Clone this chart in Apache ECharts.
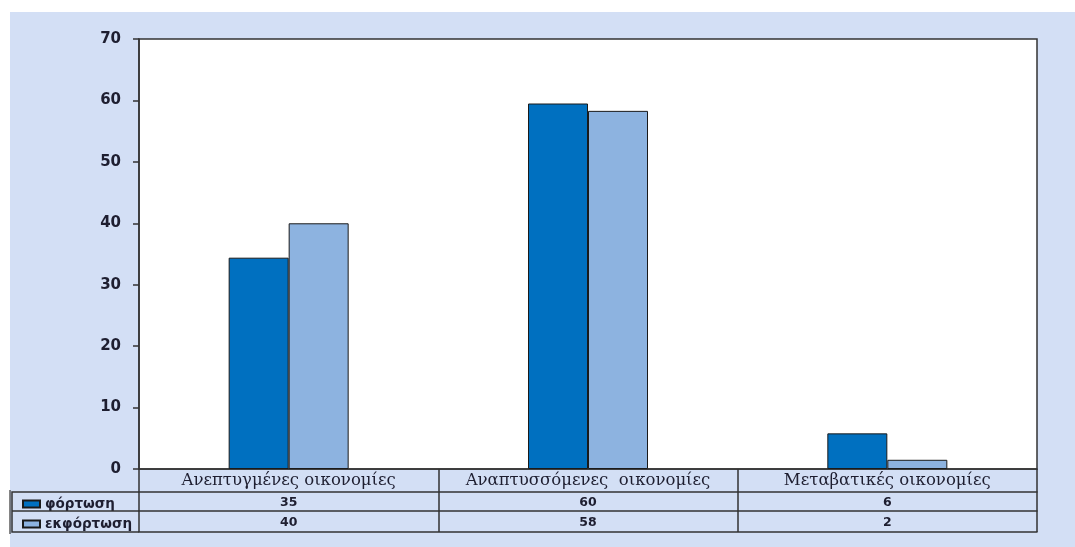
<!DOCTYPE html>
<html>
<head>
<meta charset="utf-8">
<script src="https://cdn.jsdelivr.net/npm/echarts@6/dist/echarts.min.js"></script>
<style>
html,body{margin:0;padding:0;background:#ffffff;}
#chart{width:1075px;height:547px;}
</style>
</head>
<body>
<div id="chart"></div>
<script>
// ---- data ----
const categories = ['Ανεπτυγμένες οικονομίες', 'Αναπτυσσόμενες  οικονομίες', 'Μεταβατικές οικονομίες'];
const seriesNames = ['φόρτωση', 'εκφόρτωση'];
const loading = [34.4, 59.5, 5.8];      // bar heights
const unloading = [40.0, 58.3, 1.5];
const loadingTable = ['35', '60', '6']; // values printed in the table
const unloadingTable = ['40', '58', '2'];
const yMin = 0, yMax = 70, yStep = 10;

// ---- styling ----
const dark = '#0070c0', light = '#8db3e0';
const lineCol = '#333333';
const textCol = '#1e1e30';

const chart = echarts.init(document.getElementById('chart'));

function tableAxis(offset, labels, tickLen, margin, font) {
  return {
    type: 'category',
    data: labels,
    position: 'bottom',
    offset: offset,
    gridIndex: 0,
    axisLine: { show: true, lineStyle: { color: lineCol, width: 1.5 } },
    axisTick: { show: true, length: tickLen, interval: 0, lineStyle: { color: lineCol, width: 1.5 } },
    axisLabel: {
      show: labels.length > 0, interval: 0, margin: margin, color: textCol,
      fontFamily: font.family, fontSize: font.size, fontWeight: font.weight, lineHeight: font.size
    }
  };
}

const option = {
  backgroundColor: '#ffffff',
  animation: false,
  graphic: [
    { type: 'rect', z: -100, silent: true, shape: { x: 10, y: 12, width: 1065, height: 535 }, style: { fill: '#d3dff5' } },
    // legend cell borders
    { type: 'polyline', z: 10, shape: { points: [[139, 492], [12, 492], [12, 532], [139, 532]] }, style: { stroke: lineCol, lineWidth: 1.5, fill: null } },
    { type: 'line', z: 10, shape: { x1: 12, y1: 511, x2: 139, y2: 511 }, style: { stroke: lineCol, lineWidth: 1.5 } },
    { type: 'line', z: 10, shape: { x1: 10, y1: 490, x2: 10, y2: 534 }, style: { stroke: lineCol, lineWidth: 1.2 } }
  ],
  legend: {
    orient: 'vertical',
    left: 17,
    top: 492,
    itemWidth: 17,
    itemHeight: 7,
    itemGap: 6,
    icon: 'rect',
    data: seriesNames,
    textStyle: { color: textCol, fontFamily: 'DejaVu Sans', fontWeight: 'bold', fontSize: 13.5, lineHeight: 14 }
  },
  grid: {
    left: 139, right: 38, top: 39, bottom: 78,
    show: true, backgroundColor: '#ffffff', borderColor: lineCol, borderWidth: 1.5
  },
  xAxis: [
    tableAxis(0, categories, 23, 3, { family: 'DejaVu Serif', size: 16.5, weight: 'normal' }),
    tableAxis(23, loadingTable, 19, 4, { family: 'DejaVu Sans', size: 12.5, weight: 'bold' }),
    tableAxis(42, unloadingTable, 21, 5, { family: 'DejaVu Sans', size: 12.5, weight: 'bold' }),
    tableAxis(63, [], 0, 0, { family: 'DejaVu Sans', size: 12, weight: 'bold' })
  ],
  yAxis: {
    type: 'value',
    min: yMin, max: yMax, interval: yStep,
    axisLine: { show: true, lineStyle: { color: lineCol, width: 1.5 } },
    axisTick: { show: true, length: 6, lineStyle: { color: lineCol, width: 1.5 } },
    splitLine: { show: false },
    axisLabel: { margin: 18, color: textCol, fontFamily: 'DejaVu Sans', fontWeight: 'bold', fontSize: 15 }
  },
  series: [
    {
      name: seriesNames[0], type: 'bar', xAxisIndex: 0, data: loading,
      barWidth: 60, barGap: '0%',
      itemStyle: { color: dark, borderColor: '#1a1a1a', borderWidth: 1 }
    },
    {
      name: seriesNames[1], type: 'bar', xAxisIndex: 0, data: unloading,
      barWidth: 60, barGap: '0%',
      itemStyle: { color: light, borderColor: '#1a1a1a', borderWidth: 1 }
    }
  ]
};
chart.setOption(option);
</script>
</body>
</html>
